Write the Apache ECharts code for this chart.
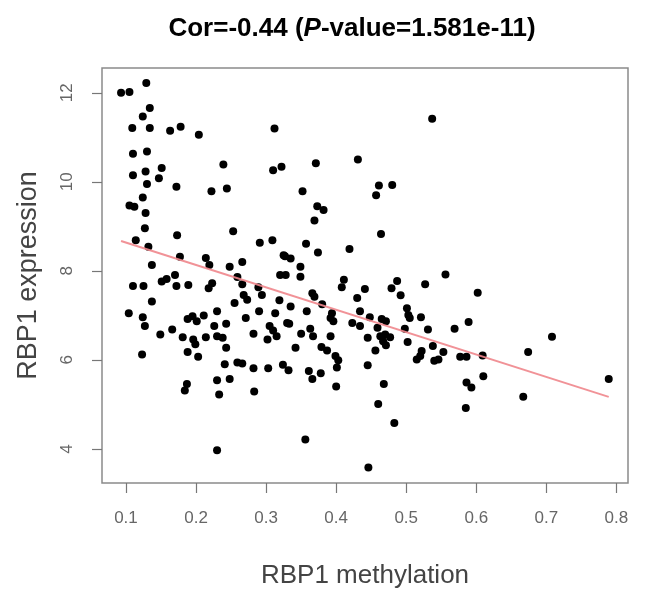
<!DOCTYPE html>
<html>
<head>
<meta charset="utf-8">
<script src="https://cdn.jsdelivr.net/npm/echarts@6/dist/echarts.min.js"></script>
<style>html,body{margin:0;padding:0;background:#fff;}#c{width:646px;height:594px;}</style>
</head>
<body>
<div id="c"></div>
<script>
var methylation = [
0.093,0.105,0.129,0.134,0.124,0.109,0.134,0.163,0.178,0.204,0.312,0.110,0.130,0.110,0.128,0.151,0.147,0.130,0.239,0.310,
0.322,0.172,0.222,0.244,0.124,0.105,0.112,0.128,0.127,0.173,0.253,0.114,0.132,0.291,0.309,0.327,0.177,0.214,0.219,0.248,
0.266,0.137,0.537,0.371,0.431,0.352,0.461,0.480,0.457,0.373,0.382,0.369,0.464,0.357,0.374,0.419,0.325,0.335,0.349,0.110,
0.125,0.151,0.158,0.170,0.172,0.189,0.223,0.218,0.259,0.266,0.289,0.294,0.320,0.328,0.137,0.104,0.124,0.127,0.149,0.166,
0.188,0.195,0.201,0.211,0.230,0.255,0.268,0.273,0.271,0.290,0.313,0.319,0.330,0.226,0.243,0.181,0.196,0.199,0.214,0.230,
0.238,0.243,0.282,0.305,0.310,0.315,0.302,0.123,0.188,0.203,0.241,0.259,0.266,0.282,0.303,0.324,0.332,0.230,0.248,0.187,
0.184,0.233,0.283,0.230,0.349,0.411,0.408,0.441,0.430,0.487,0.479,0.492,0.527,0.556,0.602,0.335,0.366,0.369,0.380,0.358,
0.394,0.392,0.396,0.434,0.423,0.434,0.448,0.465,0.471,0.459,0.501,0.503,0.505,0.521,0.498,0.531,0.569,0.589,0.333,0.363,
0.350,0.392,0.445,0.463,0.470,0.477,0.467,0.471,0.502,0.342,0.379,0.387,0.456,0.399,0.403,0.401,0.361,0.366,0.378,0.445,
0.522,0.515,0.520,0.538,0.553,0.540,0.546,0.577,0.586,0.400,0.468,0.586,0.593,0.460,0.585,0.483,0.356,0.446,0.708,0.674,
0.609,0.610,0.667,0.789,0.367
];
var expression = [
12.00,12.02,12.22,11.66,11.47,11.21,11.21,11.15,11.24,11.06,11.20,10.63,10.68,10.15,10.23,10.31,10.08,9.95,10.39,10.26,
10.34,9.89,9.79,9.85,9.65,9.47,9.44,9.30,8.96,8.80,8.89,8.69,8.54,8.63,8.69,8.33,8.32,8.29,8.13,8.09,
8.20,8.13,11.42,10.42,10.50,9.79,9.92,9.93,9.70,9.45,9.37,9.13,8.83,8.61,8.41,8.49,8.35,8.28,8.09,7.66,
7.66,7.76,7.82,7.91,7.66,7.68,7.72,7.61,7.86,7.70,7.63,7.46,7.91,7.91,7.31,7.05,6.96,6.76,6.57,6.68,
6.92,6.98,6.87,7.00,7.09,7.28,7.46,7.35,6.94,7.09,7.05,7.34,6.83,6.76,6.81,6.51,6.46,6.35,6.51,6.53,
6.50,6.27,6.59,6.76,6.66,6.53,6.46,6.12,6.18,6.07,5.90,5.94,5.92,5.81,5.81,5.89,5.77,5.54,5.57,5.46,
5.31,5.22,5.29,3.97,7.87,7.80,7.63,7.59,7.39,7.77,7.61,7.45,7.70,7.92,7.51,7.20,7.50,7.42,7.25,7.09,
7.05,6.94,6.87,7.09,6.83,6.76,6.96,6.92,6.87,6.72,7.16,7.01,6.94,6.96,6.70,6.68,6.70,6.85,6.81,6.70,
6.59,6.53,6.50,6.53,6.57,6.51,6.42,6.33,6.40,6.27,6.29,6.21,6.21,6.09,5.99,5.83,5.75,5.57,5.70,5.88,
6.20,6.01,6.09,6.31,6.18,5.98,6.01,6.07,6.07,5.40,5.46,5.49,5.38,5.01,4.92,4.58,4.21,3.58,6.52,6.18,
6.10,5.63,5.17,5.57,6.53
];
var fitX = [0.093, 0.789];
var fitY = [8.67, 5.17];
var xTicks = [0.1, 0.2, 0.3, 0.4, 0.5, 0.6, 0.7, 0.8];
var yTicks = [4, 6, 8, 10, 12];

var points = methylation.map(function (v, i) { return [v, expression[i]]; });
var fit = fitX.map(function (v, i) { return [v, fitY[i]]; });

var chart = echarts.init(document.getElementById('c'), null, { renderer: 'canvas' });
var font = '"Liberation Sans", Arial, sans-serif';
chart.setOption({
  animation: false,
  backgroundColor: '#fff',
  title: {
    text: '{a|Cor=-0.44 (}{b|P}{a|-value=1.581e-11)}',
    left: 347,
    top: 11,
    textAlign: 'center',
    textStyle: {
      rich: {
        a: { fontFamily: font, fontSize: 26, fontWeight: 'bold', color: '#000' },
        b: { fontFamily: font, fontSize: 26, fontWeight: 'bold', fontStyle: 'italic', color: '#000' }
      }
    }
  },
  grid: {
    left: 102, top: 68, right: 18, bottom: 108,
    show: true, borderColor: '#8a8a8a', borderWidth: 1.5, backgroundColor: '#fff'
  },
  xAxis: {
    type: 'value', min: 0.0658, max: 0.8165,
    name: 'RBP1 methylation', nameLocation: 'middle', nameGap: 80,
    nameTextStyle: { fontFamily: font, fontSize: 26, color: '#444' },
    axisLine: { show: false },
    splitLine: { show: false },
    axisTick: { show: true, length: 10, customValues: xTicks, lineStyle: { color: '#777', width: 1.2 } },
    axisLabel: { customValues: xTicks, margin: 27, fontFamily: font, fontSize: 17, color: '#666',
      formatter: function (v) { return v.toFixed(1); } }
  },
  yAxis: {
    type: 'value', min: 3.234, max: 12.558,
    name: 'RBP1 expression', nameLocation: 'middle', nameGap: 60,
    nameTextStyle: { fontFamily: font, fontSize: 27, color: '#444' },
    axisLine: { show: false },
    splitLine: { show: false },
    axisTick: { show: true, length: 10, customValues: yTicks, lineStyle: { color: '#777', width: 1.2 } },
    axisLabel: { customValues: yTicks, rotate: 90, margin: 26, fontFamily: font, fontSize: 17, color: '#666' }
  },
  series: [
    {
      type: 'scatter', data: points, symbol: 'circle', symbolSize: 8,
      itemStyle: { color: '#000', opacity: 1 }, z: 2
    },
    {
      type: 'line', data: fit, symbol: 'none', silent: true,
      lineStyle: { color: '#f0868c', width: 2, opacity: 0.9 }, z: 3
    }
  ]
});
</script>
</body>
</html>
